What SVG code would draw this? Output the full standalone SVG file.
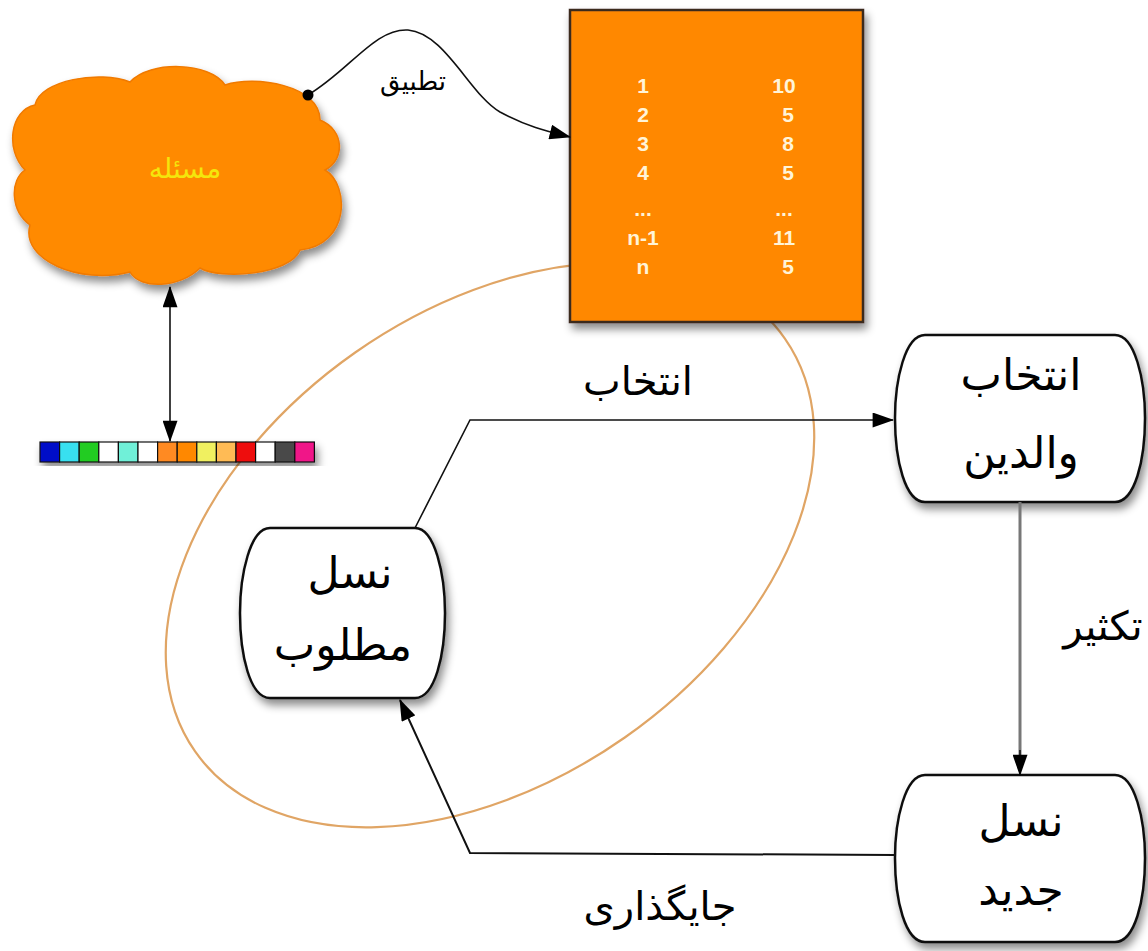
<svg xmlns="http://www.w3.org/2000/svg" width="1148" height="951" viewBox="0 0 1148 951">
<defs>
<filter id="sh" x="-20%" y="-20%" width="140%" height="140%">
<feDropShadow dx="3" dy="6" stdDeviation="4" flood-color="#000" flood-opacity="0.45"/>
</filter>
<marker id="ah" viewBox="0 0 20 14" refX="19" refY="7" markerWidth="22" markerHeight="15" markerUnits="userSpaceOnUse" orient="auto-start-reverse">
<path d="M0,0 L20,7 L0,14 Z" fill="#000"/>
</marker>
<style>
.ar{font-family:"DejaVu Sans","Noto Sans",sans-serif;fill:#000;text-anchor:middle}
.num{font-family:"Liberation Sans",Arial,sans-serif;font-weight:bold;font-size:21px;fill:#fff4d8;text-anchor:middle}
.box{fill:#fff;stroke:#111;stroke-width:2.5}
.ln{fill:none;stroke:#111;stroke-width:1.6}
</style>
</defs>
<rect width="1148" height="951" fill="#fff"/>

<ellipse id="loop" cx="490" cy="545" rx="360" ry="235" transform="rotate(-35 490 545)" fill="none" stroke="#e0a565" stroke-width="2.2"/>

<g id="problem">
<path filter="url(#sh)" d="M35,105 C40,80 100,70 130,82 C150,60 210,62 225,85 C255,75 320,85 320,120 C345,130 345,160 325,170 C350,185 350,245 300,250 C290,275 220,280 200,268 C180,288 140,290 130,272 C80,285 20,260 30,225 C10,210 10,180 25,170 C5,150 10,110 35,105 Z" fill="#ff8a00" stroke="#f07a00" stroke-width="1.5"/>
<text x="185" y="178" class="ar" style="fill:#f4e60c" font-size="28">مسئله</text>
</g>

<g id="table">
<rect x="570" y="10" width="293" height="312" fill="#ff8800" stroke="#3a2a1e" stroke-width="2.5" filter="url(#sh)"/>
<text class="num" x="643" y="93">1</text>
<text class="num" x="643" y="122">2</text>
<text class="num" x="643" y="151">3</text>
<text class="num" x="643" y="180">4</text>
<text class="num" x="643" y="216">...</text>
<text class="num" x="643" y="245">n-1</text>
<text class="num" x="643" y="274">n</text>
<text class="num" x="784" y="93">10</text>
<text class="num" x="788" y="122">5</text>
<text class="num" x="788" y="151">8</text>
<text class="num" x="788" y="180">5</text>
<text class="num" x="784" y="216">...</text>
<text class="num" x="784" y="245">11</text>
<text class="num" x="788" y="274">5</text>
</g>

<g id="chromosome" stroke="#111" stroke-width="1.2" filter="url(#sh)">
<rect x="40" y="442" width="19.6" height="20" fill="#0010c8"/>
<rect x="59.6" y="442" width="19.6" height="20" fill="#38e0f0"/>
<rect x="79.2" y="442" width="19.6" height="20" fill="#22cc22"/>
<rect x="98.8" y="442" width="19.6" height="20" fill="#ffffff"/>
<rect x="118.4" y="442" width="19.6" height="20" fill="#70f0d8"/>
<rect x="138" y="442" width="19.6" height="20" fill="#ffffff"/>
<rect x="157.6" y="442" width="19.6" height="20" fill="#ff8a22"/>
<rect x="177.2" y="442" width="19.6" height="20" fill="#ff8800"/>
<rect x="196.8" y="442" width="19.6" height="20" fill="#f0f060"/>
<rect x="216.4" y="442" width="19.6" height="20" fill="#ffbb55"/>
<rect x="236" y="442" width="19.6" height="20" fill="#ee0a0a"/>
<rect x="255.6" y="442" width="19.6" height="20" fill="#ffffff"/>
<rect x="275.2" y="442" width="19.6" height="20" fill="#484848"/>
<rect x="294.8" y="442" width="19.6" height="20" fill="#f01288"/>
</g>

<g id="parents">
<path class="box" filter="url(#sh)" d="M925,335 L1115,335 C1135,335 1145,380 1145,418 C1145,460 1135,502 1115,502 L925,502 C905,502 895,460 895,418 C895,380 905,335 925,335 Z"/>
<text class="ar" x="1021" y="390" font-size="44">انتخاب</text>
<text class="ar" x="1021" y="468" font-size="44">والدین</text>
</g>

<g id="newgen">
<path class="box" filter="url(#sh)" d="M925,775 L1115,775 C1135,775 1145,820 1145,858 C1145,900 1135,942 1115,942 L925,942 C905,942 895,900 895,858 C895,820 905,775 925,775 Z"/>
<text class="ar" x="1021" y="836" font-size="44">نسل</text>
<text class="ar" x="1021" y="905" font-size="44">جدید</text>
</g>

<g id="desired">
<path class="box" filter="url(#sh)" d="M270,528 L415,528 C435,528 445,575 445,613 C445,655 435,698 415,698 L270,698 C250,698 240,655 240,613 C240,575 250,528 270,528 Z"/>
<text class="ar" x="350" y="588" font-size="44">نسل</text>
<text class="ar" x="343" y="660" font-size="44">مطلوب</text>
</g>

<g id="connectors">
<path class="ln" d="M308,95 C350,70 375,28 408,30 C445,33 470,95 500,112 C530,128 550,132 570,137" marker-end="url(#ah)"/>
<circle cx="308" cy="95" r="5.5" fill="#000"/>
<line class="ln" x1="170" y1="287" x2="170" y2="441" marker-start="url(#ah)" marker-end="url(#ah)"/>
<path class="ln" d="M415,528 L470,420 L893,420" marker-end="url(#ah)"/>
<line x1="1020" y1="502" x2="1020" y2="755" stroke="#777" stroke-width="3"/>
<line x1="1020" y1="750" x2="1020" y2="775" stroke="#111" stroke-width="1.5" marker-end="url(#ah)"/>
<path d="M895,855 L470,853 L400,700" fill="none" stroke="#111" stroke-width="2" marker-end="url(#ah)"/>
<text class="ar" x="413" y="90" font-size="26">تطبیق</text>
<text class="ar" x="638" y="395" font-size="40">انتخاب</text>
<text class="ar" x="1103" y="640" font-size="40">تکثیر</text>
<text class="ar" x="660" y="920" font-size="40">جایگذاری</text>
</g>
</svg>
